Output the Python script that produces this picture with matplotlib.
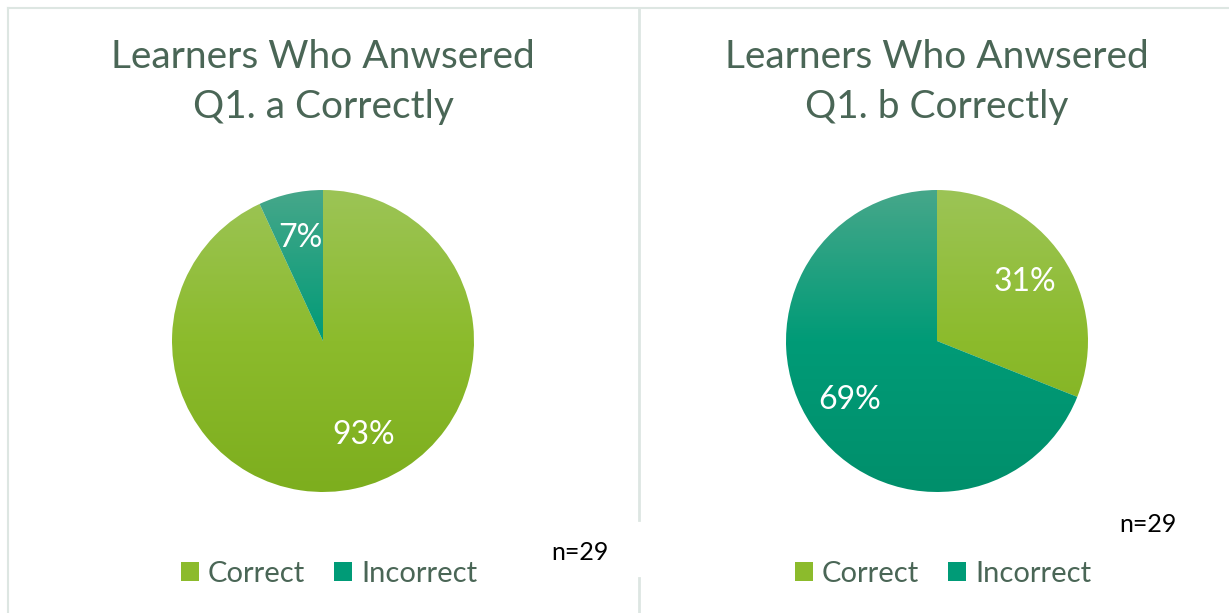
import numpy as np
import matplotlib.pyplot as plt
from matplotlib.colors import LinearSegmentedColormap
from matplotlib.patches import Patch

# chart data
titles = ["Learners Who Anwsered\nQ1. a Correctly",
          "Learners Who Anwsered\nQ1. b Correctly"]
categories = ["Correct", "Incorrect"]
q1a_counts = [27, 2]
q1b_counts = [9, 20]
sample_size = 29

FONT = "Lato"
TEXT_COLOR = "#4A6656"
BORDER = "#DDE6E2"

# vertical gradients (top light -> bottom dark), like the Excel fill
green_cmap = LinearSegmentedColormap.from_list("g", ["#7DAE1E", "#8CBB2C", "#9CC456"])
teal_cmap = LinearSegmentedColormap.from_list("t", ["#008F6B", "#009B77", "#46A78A"])
cmaps = [green_cmap, teal_cmap]
mid_colors = ["#8CBB2C", "#009B77"]


def draw_pie(ax, counts, label_pos=None):
    wedges, _, autotexts = ax.pie(
        counts, startangle=90, counterclock=False, radius=1,
        autopct=lambda p: f"{p:.0f}%", pctdistance=0.7,
        textprops=dict(color="white", fontsize=23, family=FONT),
        wedgeprops=dict(linewidth=0),
    )
    grad = np.linspace(0, 1, 256).reshape(-1, 1)
    for w, cmap in zip(wedges, cmaps):
        w.set_facecolor("none")
        im = ax.imshow(grad, extent=(-1, 1, -1, 1), origin="lower",
                       cmap=cmap, aspect="auto", zorder=0.5)
        im.set_clip_path(w)
    if label_pos:
        for i, pos in label_pos.items():
            autotexts[i].set_position(pos)
    ax.set_xlim(-1, 1)
    ax.set_ylim(-1, 1)
    ax.set_aspect("equal")
    ax.axis("off")


W, H = 1229, 613
fig = plt.figure(figsize=(W / 100, H / 100), dpi=100)

# panel borders
fig.add_artist(plt.Line2D([8 / W, 1], [1 - 8 / H] * 2, color=BORDER, lw=1.5))
fig.add_artist(plt.Line2D([8 / W] * 2, [0, 1 - 8 / H], color=BORDER, lw=1.5))
fig.add_artist(plt.Line2D([639 / W] * 2, [1 - 520 / H, 1 - 8 / H], color=BORDER, lw=2))
fig.add_artist(plt.Line2D([639 / W] * 2, [0, 1 - 578 / H], color=BORDER, lw=2))

centers = [(323, 341), (937, 341)]
radius = 151
all_counts = [q1a_counts, q1b_counts]
label_fixes = [{0: (0.27, -0.62)}, None]

for (cx, cy), counts, title, fix in zip(centers, all_counts, titles, label_fixes):
    ax = fig.add_axes([(cx - radius) / W, (H - cy - radius) / H,
                       2 * radius / W, 2 * radius / H])
    draw_pie(ax, counts, fix)
    fig.text(cx / W, 1 - 82 / H, title, ha="center", va="center",
             fontsize=28, family=FONT, color=TEXT_COLOR, linespacing=1.45)

    handles = [Patch(facecolor=c, edgecolor="none") for c in mid_colors]
    fig.legend(handles, categories, loc="center",
               bbox_to_anchor=((cx + 6) / W, 1 - 574 / H), ncol=2,
               frameon=False, handlelength=0.62, handleheight=0.62,
               handletextpad=0.3, columnspacing=1.0,
               prop=dict(family=FONT, size=21), labelcolor=TEXT_COLOR)

fig.text(580 / W, 1 - 552 / H, f"n={sample_size}", ha="center", va="center",
         fontsize=18, family=FONT, color="black")
fig.text(1148 / W, 1 - 524 / H, f"n={sample_size}", ha="center", va="center",
         fontsize=18, family=FONT, color="black")

fig.savefig("out.png", dpi=100, facecolor="white")
